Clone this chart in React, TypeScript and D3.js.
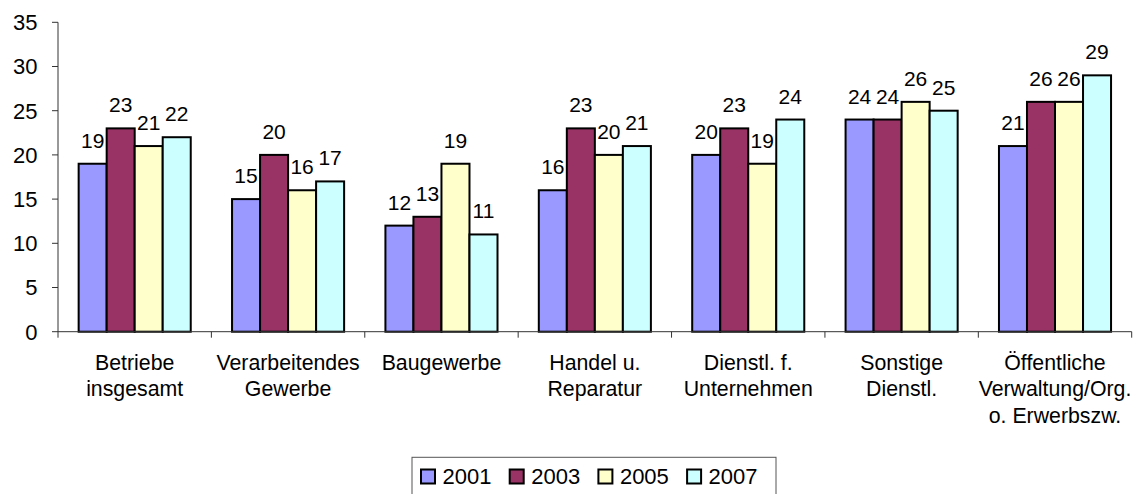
import React from "react";
import * as d3 from "d3";

const categories: string[][] = [
  ["Betriebe", "insgesamt"],
  ["Verarbeitendes", "Gewerbe"],
  ["Baugewerbe"],
  ["Handel u.", "Reparatur"],
  ["Dienstl. f.", "Unternehmen"],
  ["Sonstige", "Dienstl."],
  ["Öffentliche", "Verwaltung/Org.", "o. Erwerbszw."],
];
const seriesNames = ["2001", "2003", "2005", "2007"];
const s2001 = [19, 15, 12, 16, 20, 24, 21];
const s2003 = [23, 20, 13, 23, 23, 24, 26];
const s2005 = [21, 16, 19, 20, 19, 26, 26];
const s2007 = [22, 17, 11, 21, 24, 25, 29];
const seriesValues = [s2001, s2003, s2005, s2007];
const colors = ["#9999FF", "#993366", "#FFFFCC", "#CCFFFF"];
const yTicks = [0, 5, 10, 15, 20, 25, 30, 35];

const W = 1138;
const H = 494;
const left = 58;
const right = 1131.7;
const top = 22.3;
const bottom = 331.7;
const FONT = "Arial, 'Liberation Sans', sans-serif";

export default function App() {
  const catIdx = categories.map((_, i) => String(i));
  const x0 = d3.scaleBand<string>().domain(catIdx).range([left, right]).padding(0);
  const x1 = d3
    .scaleBand<string>()
    .domain(seriesNames)
    .range([0, x0.bandwidth()])
    .paddingInner(0)
    .paddingOuter(0.737);
  const y = d3.scaleLinear().domain([0, 35]).range([bottom, top]);

  const boundaries = d3.range(categories.length + 1).map((i) => left + i * x0.bandwidth());

  // legend
  const legX = 412;
  const legY = 457.3;
  const legW = 364;
  const legH = 40;
  const itemPitch = 88.7;

  return (
    <svg
      width={W}
      height={H}
      style={{ position: "absolute", left: 0, top: 0, background: "#fff" }}
      fontFamily={FONT}
    >
      <rect x={0} y={0} width={W} height={H} fill="#fff" />
      {/* bars */}
      {categories.map((_, ci) =>
        seriesNames.map((s, si) => {
          const v = seriesValues[si][ci];
          const bx = x0(String(ci))! + x1(s)!;
          const bw = x1.bandwidth();
          return (
            <g key={`${ci}-${si}`}>
              <rect
                x={bx}
                y={y(v)}
                width={bw}
                height={y(0) - y(v)}
                fill={colors[si]}
                stroke="#000"
                strokeWidth={2}
              />
              <text
                x={bx + bw / 2}
                y={y(v) - 16}
                textAnchor="middle"
                fontSize={21}
                fill="#000"
              >
                {v}
              </text>
            </g>
          );
        })
      )}
      {/* y axis */}
      <line x1={left} x2={left} y1={top} y2={bottom} stroke="#333" strokeWidth={1} />
      {yTicks.map((t) => (
        <g key={t}>
          <line x1={left - 6} x2={left} y1={y(t)} y2={y(t)} stroke="#333" strokeWidth={1} />
          <text x={37.5} y={y(t)} dy="0.36em" textAnchor="end" fontSize={22} fill="#000">
            {t}
          </text>
        </g>
      ))}
      {/* x axis */}
      <line x1={left} x2={right} y1={bottom} y2={bottom} stroke="#333" strokeWidth={1} />
      {boundaries.map((bx, i) => (
        <line key={i} x1={bx} x2={bx} y1={bottom} y2={bottom + 6} stroke="#333" strokeWidth={1} />
      ))}
      {categories.map((lines, ci) => (
        <text
          key={ci}
          x={x0(String(ci))! + x0.bandwidth() / 2}
          y={370}
          textAnchor="middle"
          fontSize={21.3}
          fill="#000"
        >
          {lines.map((l, li) => (
            <tspan key={li} x={x0(String(ci))! + x0.bandwidth() / 2} y={370 + li * 26.3}>
              {l}
            </tspan>
          ))}
        </text>
      ))}
      {/* legend */}
      <rect x={legX} y={legY} width={legW} height={legH} fill="#fff" stroke="#555" strokeWidth={1} />
      {seriesNames.map((s, si) => {
        const ix = 421 + si * itemPitch;
        return (
          <g key={s}>
            <rect x={ix} y={469.5} width={14} height={14} fill={colors[si]} stroke="#000" strokeWidth={2} />
            <text x={ix + 21.5} y={484} fontSize={22} fill="#000">
              {s}
            </text>
          </g>
        );
      })}
    </svg>
  );
}
